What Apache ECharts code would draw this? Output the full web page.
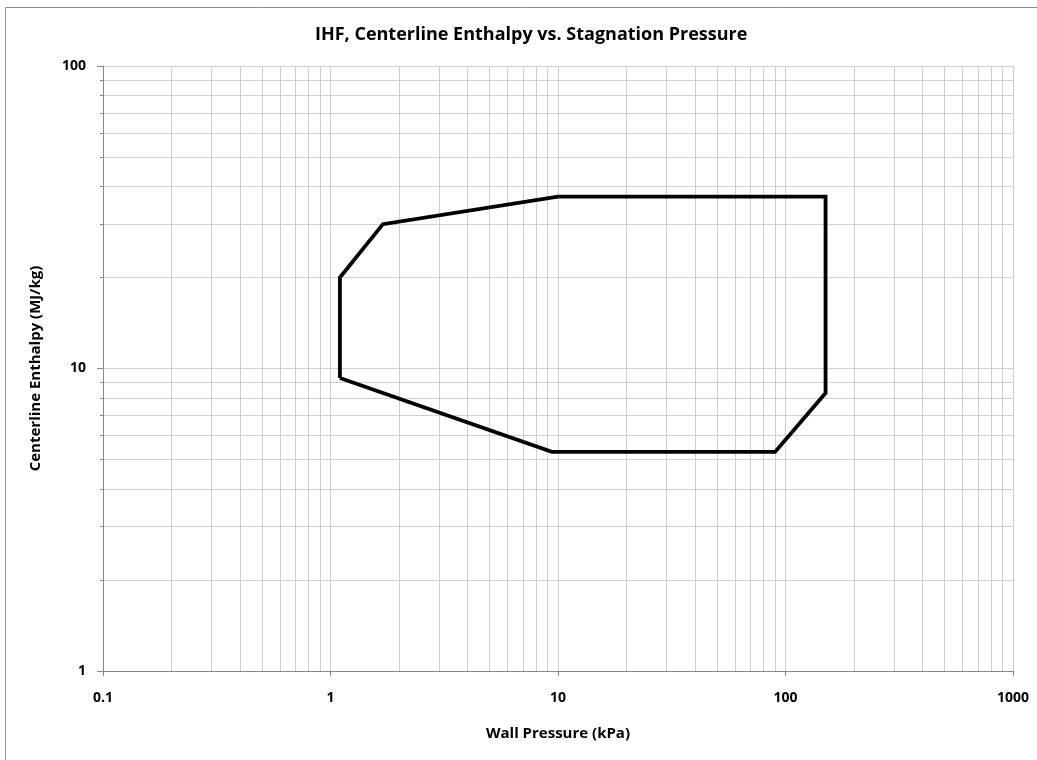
<!DOCTYPE html>
<html>
<head>
<meta charset="utf-8">
<script src="https://cdn.jsdelivr.net/npm/echarts@6/dist/echarts.min.js"></script>
<style>
  html, body { margin: 0; padding: 0; background: #fff; }
  #myChart { width: 1037px; height: 760px; }
</style>
</head>
<body>
<div id="myChart"></div>
<script>
// envelope corners, going round the polygon (closed back to the first point)
const pressure = [1.1, 1.1, 1.7, 10, 150, 150, 90, 9.4, 1.1];   // kPa
const enthalpy = [9.3, 20, 30, 37, 37, 8.3, 5.3, 5.3, 9.3];     // MJ/kg

const xRange = [0.1, 1000];
const yRange = [1, 100];

const fontFam = '"Open Sans", sans-serif';
const gridColor = '#d0d0d0';
const axisColor = '#888888';

const myChart = echarts.init(document.getElementById('myChart'));

const points = pressure.map((p, i) => [p, enthalpy[i]]);

// plain numbers, no thousands separator
function plainNum(v) {
    return String(+v.toPrecision(6));
}

const option = {
    backgroundColor: '#fff',
    animation: false,
    title: {
        text: 'IHF, Centerline Enthalpy vs. Stagnation Pressure',
        left: 310,
        top: 21,
        textStyle: { fontFamily: fontFam, fontSize: 18, fontWeight: 'bold', color: '#000' }
    },
    graphic: [{
        type: 'rect',
        shape: { x: 5.5, y: 7.5, width: 1100, height: 800 },
        style: { fill: 'none', stroke: '#8c8c8c', lineWidth: 1 },
        silent: true
    }],
    grid: { left: 103, right: 24, top: 66, bottom: 89 },
    xAxis: {
        type: 'log',
        logBase: 10,
        min: xRange[0],
        max: xRange[1],
        name: 'Wall Pressure (kPa)',
        nameLocation: 'middle',
        nameGap: 55,
        nameTextStyle: { fontFamily: fontFam, fontSize: 15, fontWeight: 'bold', color: '#000' },
        axisLine: { lineStyle: { color: axisColor } },
        axisTick: { show: true, length: 5, lineStyle: { color: axisColor } },
        axisLabel: { margin: 20, fontFamily: fontFam, fontSize: 14, fontWeight: 'bold', color: '#000', formatter: plainNum },
        splitLine: { show: true, lineStyle: { color: gridColor } },
        minorTick: { show: false, splitNumber: 9 },
        minorSplitLine: { show: true, lineStyle: { color: gridColor } }
    },
    yAxis: {
        type: 'log',
        logBase: 10,
        min: yRange[0],
        max: yRange[1],
        name: 'Centerline Enthalpy (MJ/kg)',
        nameLocation: 'middle',
        nameGap: 60,
        nameTextStyle: { fontFamily: fontFam, fontSize: 15, fontWeight: 'bold', color: '#000' },
        axisLine: { show: true, lineStyle: { color: axisColor } },
        axisTick: { show: true, length: 6, lineStyle: { color: axisColor } },
        axisLabel: { margin: 17, fontFamily: fontFam, fontSize: 14, fontWeight: 'bold', color: '#000', formatter: plainNum },
        splitLine: { show: true, lineStyle: { color: gridColor } },
        minorTick: { show: true, splitNumber: 9, length: 3, lineStyle: { color: axisColor } },
        minorSplitLine: { show: true, lineStyle: { color: gridColor } }
    },
    series: [{
        name: 'Envelope',
        type: 'line',
        data: points,
        showSymbol: false,
        symbol: 'none',
        lineStyle: { color: '#000', width: 3.8, join: 'miter' },
        z: 5
    }]
};

myChart.setOption(option);
window.addEventListener('resize', myChart.resize);
</script>
</body>
</html>
